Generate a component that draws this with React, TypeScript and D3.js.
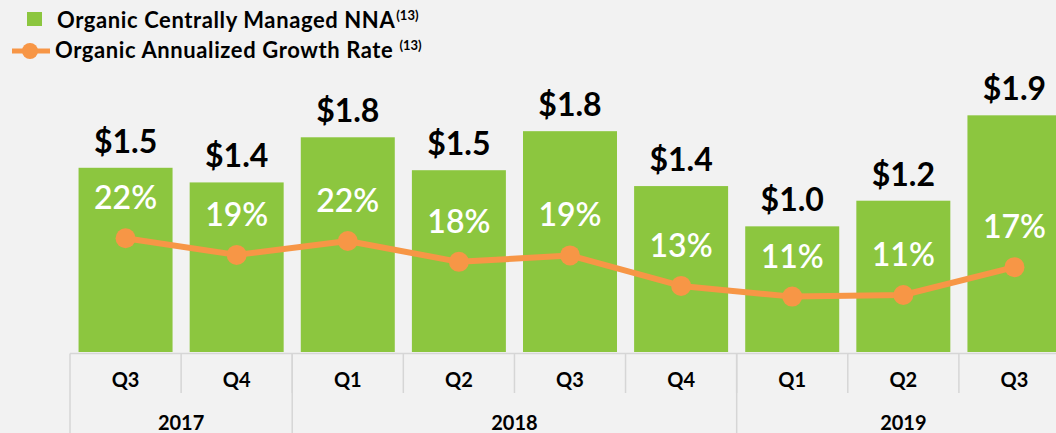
import React from 'react';
import * as d3 from 'd3';

const quarters = ['Q3', 'Q4', 'Q1', 'Q2', 'Q3', 'Q4', 'Q1', 'Q2', 'Q3'];
const years = ['2017', '2018', '2019'];
const quartersPerYear = [2, 4, 3];
const nna = [1.51, 1.39, 1.76, 1.49, 1.81, 1.36, 1.03, 1.24, 1.94];
const growth = [22.0, 18.9, 21.5, 17.6, 18.8, 13.1, 11.1, 11.4, 16.6];
const legendLabels = ['Organic Centrally Managed NNA', 'Organic Annualized Growth Rate'];
const legendNote = '(13)';

const W = 1056;
const H = 433;
const GREEN = '#8cc63f';
const ORANGE = '#f79646';
const GRID = '#d6d6d6';
const FONT = "Lato, 'Open Sans', sans-serif";

export default function App() {
  const idx = d3.range(quarters.length);
  const x = d3.scaleBand<number>().domain(idx).range([70, 1070]).paddingInner(0.154).paddingOuter(0.077);
  const step = x.step();
  const x0 = 70;
  const y = d3.scaleLinear().domain([0, 2]).range([352, 108]);
  const r = d3.scaleLinear().domain([0, 40]).range([356, 142]);
  const cx = (i: number) => (x(i) as number) + x.bandwidth() / 2;
  const line = d3.line<number>().x((_, i) => cx(i)).y((d) => r(d));
  const fmtD = d3.format('.1f');
  const fmtP = d3.format('.0f');

  const axisTop = 353.5;
  const qDivBottom = 393;

  const yearBounds: number[] = [x0];
  let acc = 0;
  quartersPerYear.forEach((n) => {
    acc += n;
    yearBounds.push(x0 + acc * step);
  });

  return (
    <svg width={W} height={H} style={{ position: 'absolute', left: 0, top: 0 }} fontFamily={FONT}>
      <rect x={0} y={0} width={W} height={H} fill="#f2f2f2" />

      {/* legend */}
      <rect x={27} y={12} width={15} height={14} fill={GREEN} />
      <text x={57} y={28} fontSize={22} fontWeight={700} letterSpacing={0.6} fill="#000">
        {legendLabels[0]}
        <tspan dx={1} dy={-8} fontSize={13} letterSpacing={0}>{legendNote}</tspan>
      </text>
      <line x1={12} x2={50} y1={51} y2={51} stroke={ORANGE} strokeWidth={5} />
      <circle cx={30} cy={51} r={8} fill={ORANGE} />
      <text x={55} y={58} fontSize={22} fontWeight={700} letterSpacing={0.6} fill="#000">
        {legendLabels[1]}
        <tspan dx={6} dy={-8} fontSize={13} letterSpacing={0}>{legendNote}</tspan>
      </text>

      {/* bars */}
      {nna.map((v, i) => (
        <rect key={'b' + i} x={x(i)} y={y(v)} width={x.bandwidth()} height={y(0) - y(v)} fill={GREEN} />
      ))}
      {nna.map((v, i) => (
        <text key={'bl' + i} x={cx(i)} y={y(v) - 15} textAnchor="middle" fontSize={32} fontWeight={700} fill="#000">
          {'$' + fmtD(v)}
        </text>
      ))}

      {/* line */}
      <path d={line(growth) || ''} fill="none" stroke={ORANGE} strokeWidth={6} strokeLinejoin="round" />
      {growth.map((g, i) => (
        <circle key={'c' + i} cx={cx(i)} cy={r(g)} r={10} fill={ORANGE} />
      ))}
      {growth.map((g, i) => (
        <text key={'gl' + i} x={cx(i)} y={r(g) - 29} textAnchor="middle" fontSize={32} fontWeight={600} fill="#fff">
          {fmtP(g) + '%'}
        </text>
      ))}

      {/* category table */}
      <line x1={x0} x2={1070} y1={axisTop} y2={axisTop} stroke={GRID} strokeWidth={1.5} />
      {idx.slice(1).map((i) => (
        <line key={'qd' + i} x1={x0 + i * step} x2={x0 + i * step} y1={axisTop} y2={qDivBottom} stroke={GRID} strokeWidth={1.5} />
      ))}
      {yearBounds.map((b, i) => (
        <line key={'yd' + i} x1={b} x2={b} y1={axisTop} y2={H} stroke={GRID} strokeWidth={1.5} />
      ))}
      {quarters.map((q, i) => (
        <text key={'q' + i} x={cx(i)} y={387} textAnchor="middle" fontSize={20} fontWeight={700} fill="#000">
          {q}
        </text>
      ))}
      {years.map((yr, i) => (
        <text key={'y' + i} x={(yearBounds[i] + yearBounds[i + 1]) / 2} y={430} textAnchor="middle" fontSize={20} fontWeight={700} fill="#000">
          {yr}
        </text>
      ))}
    </svg>
  );
}
